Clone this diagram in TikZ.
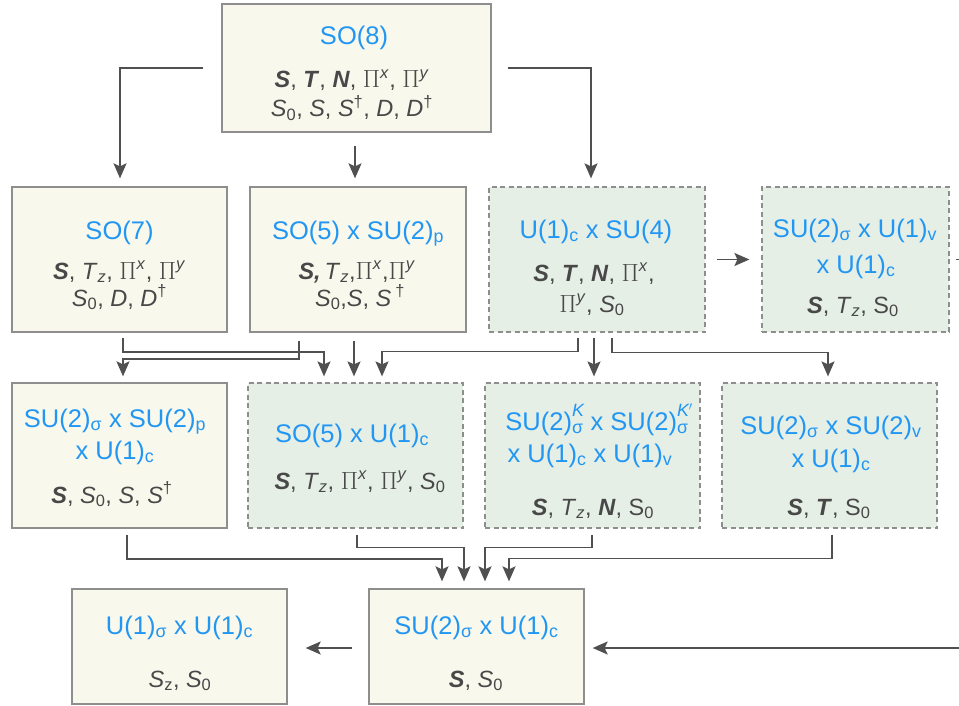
\documentclass[tikz,border=0pt]{standalone}
\usepackage{fontspec}
\setmainfont{Liberation Sans}
\usetikzlibrary{arrows.meta,calc}
\definecolor{cream}{HTML}{F9F8EC}
\definecolor{mint}{HTML}{E6EFE6}
\definecolor{ttlc}{HTML}{2196F3}
\definecolor{bodyc}{HTML}{484848}
\definecolor{edgec}{HTML}{505050}
\definecolor{bordc}{HTML}{8E8E8E}
\newcommand\bS{\textbf{\textit{S}}}
\newcommand\bT{\textbf{\textit{T}}}
\newcommand\bN{\textbf{\textit{N}}}
\newcommand\iS{\textit{S}}
\newcommand\iD{\textit{D}}
\newcommand\Tz{\textit{T}\textsubscript{\textit{z}}}
\newcommand\Sn{\textit{S}\textsubscript{0}}
\newcommand\Px{\(\Pi\)\textsuperscript{\textit{x}}}
\newcommand\Py{\(\Pi\)\textsuperscript{\textit{y}}}
\newcommand\dg{\textsuperscript{\textdagger}}
\newcommand\sub[1]{\textsubscript{#1}}
\newcommand\supsub[2]{\rlap{\raisebox{4pt}{\textsuperscript{\textit{#1}}}}\textsubscript{#2}}
\begin{document}
\begin{tikzpicture}[x=1pt,y=-1pt,
  solidbox/.style={rectangle, draw=bordc, fill=cream, line width=1.3pt, inner sep=0pt},
  dashbox/.style={rectangle, draw=bordc, fill=mint, line width=1.2pt, dash pattern=on 5pt off 3.5pt, inner sep=0pt},
  ttl/.style={text=ttlc, font=\fontsize{25.5}{30}\selectfont, anchor=base, inner sep=0pt},
  txt/.style={text=bodyc, font=\fontsize{23.5}{28}\selectfont, anchor=base, inner sep=0pt},
  arr/.style={draw=edgec, line width=1.7pt, -{Stealth[length=15pt,width=13pt,inset=3pt]}},
  plain/.style={draw=edgec, line width=1.7pt}]
\useasboundingbox (0,0) rectangle (959,706);
% boxes
\node[solidbox, minimum width=269pt, minimum height=128pt] (so8) at (356.5,68) {};
\node[solidbox, minimum width=215pt, minimum height=145pt] (so7) at (119.5,259.5) {};
\node[solidbox, minimum width=216pt, minimum height=145pt] (so5p) at (358,259.5) {};
\node[dashbox, minimum width=216pt, minimum height=145pt] (u1su4) at (597,259.5) {};
\node[dashbox, minimum width=187pt, minimum height=145pt] (suv) at (855.5,259.5) {};
\node[solidbox, minimum width=215pt, minimum height=145pt] (sspc) at (119.5,455.5) {};
\node[dashbox, minimum width=215pt, minimum height=145pt] (so5c) at (355.5,455.5) {};
\node[dashbox, minimum width=215pt, minimum height=145pt] (skk) at (592.5,455.5) {};
\node[dashbox, minimum width=215pt, minimum height=145pt] (ssv) at (829.5,455.5) {};
\node[solidbox, minimum width=215pt, minimum height=115pt] (uu) at (179.5,646.5) {};
\node[solidbox, minimum width=215pt, minimum height=115pt] (sc) at (476.5,646.5) {};
% texts
\node[ttl] (so8t) at (354,45) {SO(8)};
\node[txt] (so8a) at (352,88) {\bS, \bT, \bN, \Px, \Py};
\node[txt] (so8b) at (352,117) {\Sn, \iS, \iS\dg, \iD, \iD\dg};
\node[ttl] (so7t) at (119.5,239) {SO(7)};
\node[txt] (so7a) at (119.5,279) {\bS, \Tz, \Px, \Py};
\node[txt] (so7b) at (119.5,306) {\Sn, \iD, \iD\dg};
\node[ttl] (so5pt) at (358,239) {SO(5) x SU(2)\sub{p}};
\node[txt] (so5pa) at (357,279) {\textbf{\textit{S,}}\,\Tz,\Px,\Py};
\node[txt] (so5pb) at (360,306) {\Sn,\iS, \iS\,\dg};
\node[ttl] (u1t) at (596,238) {U(1)\sub{c} x SU(4)};
\node[txt] (u1a) at (594,281) {\bS, \bT, \bN, \Px,};
\node[txt] (u1b) at (592,312) {\Py, \Sn};
\node[ttl] (suvt) at (855,237) {SU(2)\sub{σ} x U(1)\sub{v}};
\node[ttl] (suvu) at (856,273) {x U(1)\sub{c}};
\node[txt] (suva) at (853,313) {\bS, \Tz, S\sub{0}};
\node[ttl] (sspct) at (115,427) {SU(2)\sub{σ} x SU(2)\sub{p}};
\node[ttl] (sspcu) at (115,459) {x U(1)\sub{c}};
\node[txt] (sspca) at (112,503) {\bS, \Sn, \iS, \iS\dg};
\node[ttl] (so5ct) at (352,442) {SO(5) x U(1)\sub{c}};
\node[txt] (so5ca) at (360,489) {\bS, \Tz, \Px, \Py, \Sn};
\node[ttl] (skkt) at (597,430) {SU(2)\supsub{K}{σ} x SU(2)\supsub{K$'$}{σ}};
\node[ttl] (skku) at (590,462) {x U(1)\sub{c} x U(1)\sub{v}};
\node[txt] (skka) at (593,515) {\bS, \Tz, \bN, S\sub{0}};
\node[ttl] (ssvt) at (831,434) {SU(2)\sub{σ} x SU(2)\sub{v}};
\node[ttl] (ssvu) at (831,467) {x U(1)\sub{c}};
\node[txt] (ssva) at (829,515) {\bS, \bT, S\sub{0}};
\node[ttl] (uut) at (179.5,634) {U(1)\sub{σ} x U(1)\sub{c}};
\node[txt] (uua) at (180,687) {\iS\sub{z}, \Sn};
\node[ttl] (sct) at (476.5,634) {SU(2)\sub{σ} x U(1)\sub{c}};
\node[txt] (sca) at (476,687) {\bS, \Sn};
% free ends at the right border
\coordinate (offA) at (959,259.5);
\coordinate (offB) at (959,648);
% connectors
\draw[arr] ($(so8.west)+(-18,0)$) -| ($(so7.north)+(0.5,-8)$);
\draw[arr] ($(so8.south)+(-1.5,13)$) -- ($(so8.south |- so5p.north)+(-1.5,-8)$);
\draw[arr] ($(so8.east)+(16,0)$) -| ($(u1su4.north)+(-6,-8)$);
\draw[arr] ($(u1su4.east)+(11,0)$) -- ($(suv.west)+(-12,0)$);
\draw[plain] ($(suv.east)+(6,0)$) -- (offA);
\draw[arr] ($(so7.south)+(3.5,5)$) -- ++(0,14) -| ($(so5c.north)+(-31.5,-6)$);
\draw[arr] ($(so5p.south)+(-59,8)$) -- ++(0,18) -| ($(sspc.north)+(3.5,-6)$);
\draw[arr] ($(so5p.south)+(-4,8)$) -- ($(so5c.north)+(-1.5,-6)$);
\draw[arr] ($(u1su4.south)+(-19,5)$) -- ++(0,14) -| ($(so5c.north)+(26.5,-6)$);
\draw[arr] ($(u1su4.south)+(-3,5)$) -- ($(skk.north)+(1.5,-6)$);
\draw[arr] ($(u1su4.south)+(15,5)$) -- ++(0,15) -| ($(ssv.north)+(-1.5,-6)$);
\draw[arr] ($(sspc.south)+(7.5,6)$) -- ++(0,24) -| ($(sc.north)+(-34.5,-7)$);
\draw[arr] ($(so5c.south)+(1.5,6)$) -- ++(0,13) -| ($(sc.north)+(-12.5,-7)$);
\draw[arr] ($(skk.south)+(-0.5,6)$) -- ++(0,13) -| ($(sc.north)+(8.5,-7)$);
\draw[arr] ($(ssv.south)+(2.5,6)$) -- ++(0,24) -| ($(sc.north)+(32.5,-7)$);
\draw[arr] ($(sc.west)+(-16,1.5)$) -- ($(uu.east)+(18,1.5)$);
\draw[arr] (offB) -- ($(sc.east)+(8,1.5)$);
\end{tikzpicture}
\end{document}
